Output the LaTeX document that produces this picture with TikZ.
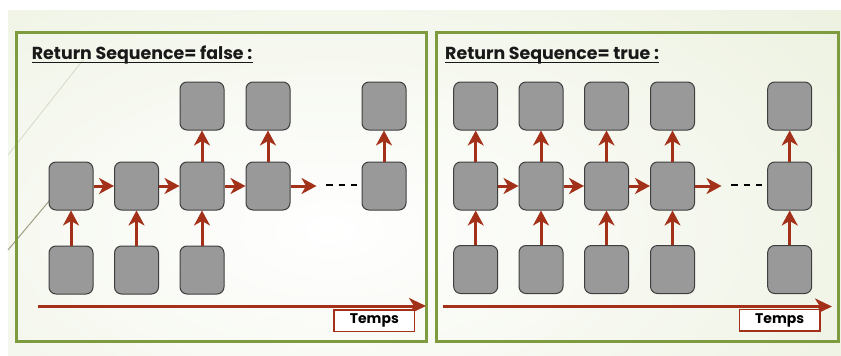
\documentclass[tikz,border=0pt]{standalone}
\usepackage{fontspec}
\setmainfont{Poppins}
\usetikzlibrary{arrows.meta}
\definecolor{arrred}{HTML}{A3311A}
\definecolor{framegreen}{HTML}{7F9B3F}
\definecolor{boxfill}{HTML}{999999}
\definecolor{boxline}{HTML}{3F3F3F}
\definecolor{bgout}{HTML}{E0E8CB}
\definecolor{decoA}{HTML}{D6D9C6}
\definecolor{decoB}{HTML}{A39C86}
\begin{document}
\begin{tikzpicture}[x=1pt,y=-1pt,
  cell/.style={draw=boxline, fill=boxfill, line width=1pt, rounded corners=7pt,
    minimum width=44pt, minimum height=48pt, inner sep=0pt},
  flow/.style={draw=arrred, line width=3pt, -{Stealth[length=15pt,width=16pt,inset=4.5pt]}},
  axis/.style={draw=arrred, line width=3pt, -{Stealth[length=17pt,width=16pt,inset=5pt]}},
  dots/.style={draw=black, line width=2.4pt, dash pattern=on 6.5pt off 6pt},
  panel/.style={draw=framegreen, line width=3pt},
  hdr/.style={inner sep=0pt, font=\bfseries\fontsize{17.4}{18}\selectfont, text=black!90},
  tempsbox/.style={draw=arrred, line width=1.5pt, fill=white, minimum width=80.7pt,
    minimum height=21.7pt, inner sep=0pt, font=\bfseries\fontsize{14}{14}\selectfont}
]
\useasboundingbox (0,0) rectangle (841,356);
\fill[white] (0,0) rectangle (841,356);
\begin{scope}
  \clip (8,10) rectangle (841,356);
  \shade[inner color=white, outer color=bgout] (-790,-370) rectangle (1450,830);
\end{scope}
% background decoration
\draw[decoA, line width=0.8pt] (83,60) -- (8,155);
\draw[decoB, line width=1pt] (60,188) -- (8,250);

% panels
\draw[panel] (16.5,32) rectangle (426.5,341.5);
\draw[panel] (436,32) rectangle (838,341.5);

% headers
\node[hdr, anchor=base west] (h1) at (31.7,59.3) {Return Sequence= false :};
\draw[line width=1.2pt, black!90] ([yshift=-3.3pt]h1.base west) -- ([yshift=-3.3pt]h1.base east);
\node[hdr, anchor=base west] (h2) at (445,59.3) {Return Sequence= true :};
\draw[line width=1.2pt, black!90] ([yshift=-3.3pt]h2.base west) -- ([yshift=-3.3pt]h2.base east);

% ---------- left panel ----------
\node[cell] (lb1) at (71,270) {};
\node[cell] (lb2) at (136.5,270) {};
\node[cell] (lb3) at (202,270) {};
\node[cell] (lm1) at (71,186) {};
\node[cell] (lm2) at (136.5,186) {};
\node[cell] (lm3) at (202,186) {};
\node[cell] (lm4) at (268,186) {};
\node[cell] (lm5) at (384,186) {};
\node[cell] (lt3) at (202,106) {};
\node[cell] (lt4) at (268,106) {};
\node[cell] (lt5) at (384,106) {};
\coordinate (lfree) at (316.5,186);
\coordinate (ld1) at (326,185);
\coordinate (ld2) at (357,185);

\draw[flow] (lb1) -- (lm1);
\draw[flow] (lb2) -- (lm2);
\draw[flow] (lb3) -- (lm3);
\draw[flow] (lm3) -- (lt3);
\draw[flow] (lm4) -- (lt4);
\draw[flow] (lm5) -- (lt5);
\draw[flow] (lm1) -- (lm2);
\draw[flow] (lm2) -- (lm3);
\draw[flow] (lm3) -- (lm4);
\draw[flow] (lm4.east) -- (lfree);
\draw[dots] (ld1) -- (ld2);

\coordinate (lax1) at (38,306);
\coordinate (lax2) at (426,306);
\draw[axis] (lax1) -- (lax2);
\node[tempsbox] (tl) at (374.3,320.8) {Temps};

% ---------- right panel ----------
\foreach \n/\x in {1/475.7,2/541,3/606.5,4/672.5,5/789.7}{
  \node[cell] (rb\n) at (\x,269.5) {};
  \node[cell] (rm\n) at (\x,186) {};
  \node[cell] (rt\n) at (\x,106) {};
  \draw[flow] (rb\n) -- (rm\n);
  \draw[flow] (rm\n) -- (rt\n);
}
\coordinate (rfree) at (721.5,186);
\coordinate (rd1) at (731,185);
\coordinate (rd2) at (762,185);
\draw[flow] (rm1) -- (rm2);
\draw[flow] (rm2) -- (rm3);
\draw[flow] (rm3) -- (rm4);
\draw[flow] (rm4.east) -- (rfree);
\draw[dots] (rd1) -- (rd2);

\coordinate (rax1) at (443,306.5);
\coordinate (rax2) at (832,306.5);
\draw[axis] (rax1) -- (rax2);
\node[tempsbox] (tr) at (779.7,320.2) {Temps};
\end{tikzpicture}
\end{document}
